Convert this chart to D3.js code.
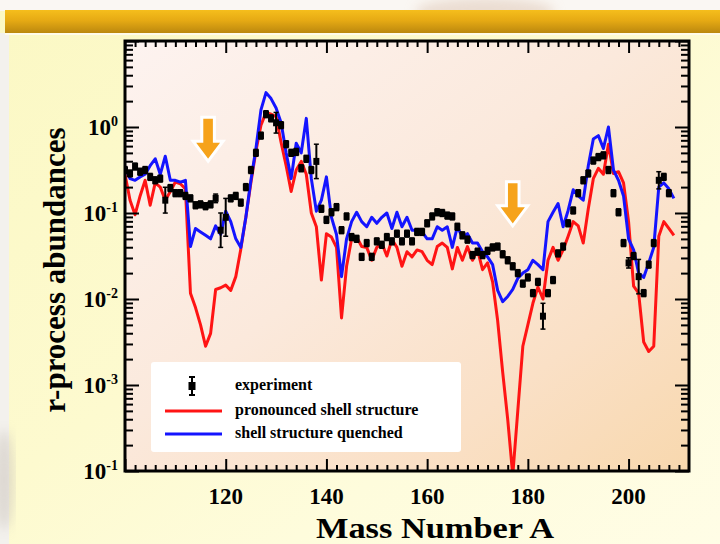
<!DOCTYPE html>
<html><head><meta charset="utf-8">
<script src="https://cdn.jsdelivr.net/npm/d3@7"></script>
<style>html,body{margin:0;padding:0;background:#fdfbd6;} svg{display:block}</style>
</head><body><svg id="c" width="720" height="544"></svg>
<script>
// ---------------- data ----------------
const massA = [100,101,102,103,104,105,106,107,108,109,110,111,112,113,114,115,116,117,118,119,
 120,121,122,123,124,125,126,127,128,129,130,131,132,133,134,135,136,137,138,139,
 140,141,142,143,144,145,146,147,148,149,150,151,152,153,154,155,156,157,158,159,
 160,161,162,163,164,165,166,167,168,169,170,171,172,173,174,175,176,177,178,179,
 180,181,182,183,184,185,186,187,188,189,190,191,192,193,194,195,196,197,198,199,
 200,201,202,203,204,205,206,207,208,209];

const quenched = [0.339,0.251,0.240,0.263,0.282,0.355,0.427,0.282,0.457,0.240,0.240,0.229,0.240,0.0407,0.0661,0.0603,0.0550,0.0501,0.0708,0.0562,
 0.105,0.0794,0.0501,0.0398,0.0891,0.240,0.562,1.58,2.51,2.14,1.66,1.12,0.501,0.251,0.646,0.501,1.26,0.251,0.105,0.141,
 0.263,0.0891,0.0562,0.0182,0.0501,0.0794,0.102,0.0794,0.0692,0.0891,0.0759,0.0891,0.100,0.0661,0.102,0.0692,0.0891,0.0631,0.0631,0.0603,
 0.0501,0.0501,0.0692,0.0631,0.0692,0.0398,0.0692,0.0525,0.0575,0.0447,0.0447,0.0355,0.0309,0.0251,0.0126,0.00933,0.0107,0.0129,0.0174,0.0200,
 0.0219,0.0282,0.0251,0.0219,0.0794,0.102,0.129,0.0692,0.107,0.186,0.158,0.141,0.355,0.724,0.794,0.562,1.0,0.316,0.240,0.158,
 0.0501,0.0372,0.0200,0.0178,0.0263,0.0398,0.200,0.224,0.191,0.148];

const pronounced = [0.282,0.141,0.0955,0.158,0.240,0.123,0.224,0.200,0.141,0.178,0.229,0.219,0.191,0.0117,0.00794,0.00501,0.00282,0.00398,0.0129,0.0135,
 0.0145,0.0126,0.0182,0.0380,0.0891,0.224,0.525,1.05,1.48,1.41,1.32,0.661,0.355,0.178,0.316,0.398,0.282,0.100,0.0692,0.0166,
 0.0575,0.0525,0.0398,0.00603,0.0240,0.0501,0.0525,0.0407,0.0398,0.0282,0.0398,0.0447,0.0316,0.0490,0.0398,0.0240,0.0355,0.0309,0.0372,0.0355,
 0.0282,0.0251,0.0407,0.0447,0.0398,0.0224,0.0398,0.0282,0.0407,0.0282,0.0372,0.0219,0.0263,0.0158,0.00562,0.00141,0.000398,0.0000891,0.000501,0.00282,
 0.00501,0.00891,0.0138,0.0100,0.0282,0.0398,0.0282,0.0372,0.0537,0.0794,0.0708,0.0447,0.112,0.251,0.331,0.282,0.631,0.288,0.302,0.224,
 0.0794,0.0141,0.0117,0.00316,0.00245,0.00282,0.0537,0.0794,0.0661,0.0550];

const expA = [100,101,102,103,104,105,106,107,108,109,110,111,112,113,114,115,116,117,118,119,
 120,121,122,123,124,125,126,127,128,129,130,131,132,133,134,135,136,137,138,139,
 140,141,142,143,144,145,146,147,148,149,150,151,152,153,154,155,156,157,158,159,
 160,161,162,163,164,165,166,167,168,169,170,171,172,173,174,175,176,177,178,179,
 180,181,182,183,184,185,186,187,188,189,190,191,192,193,194,195,196,197,198,199,
 200,201,202,203,204,205,206,207,208];
const expValue = [0.316,0.288,0.347,0.302,0.316,0.263,0.240,0.251,0.141,0.195,0.170,0.170,0.158,0.148,0.123,0.126,0.120,0.126,0.148,0.0631,
 0.0891,0.148,0.158,0.132,0.200,0.316,0.501,0.794,1.41,1.26,1.12,1.05,0.631,0.501,0.513,0.331,0.427,0.316,0.398,0.112,
 0.0832,0.102,0.117,0.0631,0.0912,0.0525,0.0501,0.0309,0.0447,0.0309,0.0468,0.0427,0.0525,0.0468,0.0575,0.0468,0.0575,0.0468,0.0603,0.0603,
 0.0759,0.0912,0.102,0.100,0.0933,0.0912,0.0692,0.0550,0.0490,0.0324,0.0355,0.0324,0.0363,0.0398,0.0407,0.0331,0.0282,0.0240,0.0200,0.0151,
 0.0178,0.0117,0.0158,0.00631,0.0117,0.0166,0.0339,0.0407,0.0759,0.107,0.170,0.240,0.288,0.407,0.447,0.468,0.316,0.170,0.102,0.0447,
 0.0263,0.0316,0.0182,0.0117,0.0251,0.0447,0.240,0.263,0.170];
// error half-width in decades
const expErr = [0.04,0.04,0.04,0.04,0.04,0.04,0.04,0.04,0.15,0.04,0.04,0.04,0.04,0.04,0.04,0.04,0.04,0.04,0.05,0.20,
 0.22,0.04,0.04,0.04,0.04,0.04,0.04,0.04,0.04,0.04,0.12,0.04,0.04,0.04,0.04,0.04,0.04,0.04,0.20,0.04,
 0.04,0.04,0.04,0.04,0.04,0.04,0.04,0.04,0.04,0.04,0.04,0.04,0.04,0.04,0.04,0.04,0.04,0.04,0.04,0.04,
 0.04,0.04,0.04,0.04,0.04,0.04,0.04,0.04,0.04,0.04,0.04,0.04,0.04,0.04,0.04,0.04,0.04,0.04,0.04,0.04,
 0.04,0.04,0.04,0.15,0.04,0.04,0.04,0.04,0.04,0.04,0.04,0.04,0.04,0.04,0.04,0.04,0.04,0.04,0.04,0.04,
 0.06,0.04,0.20,0.04,0.04,0.04,0.10,0.04,0.04];

const xDomain = [100, 212];
const yDomain = [1e-4, 10];
const xMajorTicks = [100,120,140,160,180,200];
const yMajorTicks = [1e-4,1e-3,1e-2,1e-1,1,10];
const yTickLabels = [{v:1, e:"0"},{v:1e-1, e:"-1"},{v:1e-2, e:"-2"},{v:1e-3, e:"-3"},{v:1e-4, e:"-1"}];
const xTickLabels = [120,140,160,180,200];
const legendLabels = ["experiment","pronounced shell structure","shell structure quenched"];
const arrowA = [116.5, 177.0];
const arrowTip = [0.40, 0.071];

// ---------------- drawing ----------------
const svg = d3.select("#c");
const W = 720, H = 544;
const M = {l:125, r:689, t:41, b:471};
const x = d3.scaleLinear().domain(xDomain).range([M.l, M.r]);
const y = d3.scaleLog().domain(yDomain).range([M.b, M.t]);
const serif = "'Liberation Serif','Times New Roman',serif";

const defs = svg.append("defs");
function lg(id, x1,y1,x2,y2, stops){
  const g = defs.append("linearGradient").attr("id",id)
    .attr("x1",x1).attr("y1",y1).attr("x2",x2).attr("y2",y2);
  stops.forEach(s=>g.append("stop").attr("offset",s[0]).attr("stop-color",s[1]));
}
lg("pageG",0,0,1,1,[[0,"#fbf8c4"],[0.45,"#fdfacf"],[0.7,"#fefcdc"],[1,"#fffde6"]]);
lg("barG",0,0,0,1,[[0,"#f5be1c"],[0.45,"#e6aa14"],[1,"#bb880e"]]);
lg("plotG",0,0,1,1,[[0,"#fdf3f0"],[0.45,"#fbe9dc"],[0.75,"#fae0c6"],[1,"#f8d8ae"]]);
defs.append("clipPath").attr("id","clip").append("rect")
  .attr("x",M.l).attr("y",M.t).attr("width",M.r-M.l).attr("height",M.b-M.t);
defs.append("filter").attr("id","blur").append("feGaussianBlur").attr("stdDeviation",6);

// page background
svg.append("rect").attr("width",W).attr("height",H).attr("fill","url(#pageG)");
svg.append("rect").attr("x",0).attr("y",0).attr("width",W).attr("height",11).attr("fill","#faf7f3");
svg.append("ellipse").attr("cx",485).attr("cy",12).attr("rx",70).attr("ry",14)
  .attr("fill","#dcc2b0").attr("opacity",0.5).attr("filter","url(#blur)");
svg.append("rect").attr("x",0).attr("y",33).attr("width",9).attr("height",H-33).attr("fill","#f3f1ed");
svg.append("ellipse").attr("cx",4).attr("cy",480).attr("rx",10).attr("ry",50)
  .attr("fill","#cfc8c0").attr("opacity",0.6).attr("filter","url(#blur)");
svg.append("rect").attr("x",5).attr("y",10).attr("width",W-5).attr("height",23).attr("fill","url(#barG)");
svg.append("rect").attr("x",5).attr("y",33).attr("width",W-5).attr("height",2).attr("fill","#fffbea");

// plot background
svg.append("rect").attr("x",M.l).attr("y",M.t).attr("width",M.r-M.l).attr("height",M.b-M.t)
  .attr("fill","url(#plotG)");

// arrows
const arrowShape = [[0,0],[-15,-20],[-6.3,-20],[-6.3,-44],[6.3,-44],[6.3,-20],[15,-20]];
arrowA.forEach((a,i)=>{
  const cx = x(a), cy = y(arrowTip[i]);
  svg.append("polygon")
    .attr("points", arrowShape.map(p=>[cx+p[0], cy+p[1]].join(",")).join(" "))
    .attr("fill","#f6a31b").attr("stroke","#ffffff").attr("stroke-width",3)
    .attr("stroke-linejoin","miter");
});

// legend box
const lgX = 151, lgY = 362;
svg.append("rect").attr("x",lgX).attr("y",lgY).attr("width",310).attr("height",90)
  .attr("rx",3).attr("fill","#ffffff");

// model lines
const plot = svg.append("g").attr("clip-path","url(#clip)");
const line = d3.line().x(d=>x(d[0])).y(d=>y(Math.max(d[1],5e-5)));
plot.append("path").datum(massA.map((a,i)=>[a,pronounced[i]]))
  .attr("d",line).attr("fill","none").attr("stroke","#ff1414").attr("stroke-width",3)
  .attr("stroke-linejoin","round");
plot.append("path").datum(massA.map((a,i)=>[a,quenched[i]]))
  .attr("d",line).attr("fill","none").attr("stroke","#1414ff").attr("stroke-width",3)
  .attr("stroke-linejoin","round");

// experiment points
const ex = plot.append("g").attr("fill","#000").attr("stroke","#000");
expA.forEach((a,i)=>{
  const v = expValue[i], e = expErr[i];
  const px = x(a), y0 = y(v/Math.pow(10,e)), y1 = y(v*Math.pow(10,e));
  ex.append("line").attr("x1",px).attr("x2",px).attr("y1",y0).attr("y2",y1).attr("stroke-width",2);
  ex.append("line").attr("x1",px-2.5).attr("x2",px+2.5).attr("y1",y0).attr("y2",y0).attr("stroke-width",1.5);
  ex.append("line").attr("x1",px-2.5).attr("x2",px+2.5).attr("y1",y1).attr("y2",y1).attr("stroke-width",1.5);
  ex.append("rect").attr("x",px-3).attr("y",y(v)-3.5).attr("width",6).attr("height",7).attr("stroke","none");
});

// axes ticks (inward)
const xMinor = d3.range(102, 212, 2).filter(v=>v%20!==0);
const yMinor = [];
[-4,-3,-2,-1,0].forEach(p=>{ for(let k=2;k<=9;k++) yMinor.push(k*Math.pow(10,p)); });
function styleAxis(g){ g.select(".domain").remove(); g.selectAll(".tick line").attr("stroke","#000").attr("stroke-width",2); g.selectAll("text").remove(); }
svg.append("g").attr("transform",`translate(0,${M.b})`).call(d3.axisBottom(x).tickValues(xMajorTicks).tickSize(-12)).call(styleAxis);
svg.append("g").attr("transform",`translate(0,${M.b})`).call(d3.axisBottom(x).tickValues(xMinor).tickSize(-6)).call(styleAxis);
svg.append("g").attr("transform",`translate(0,${M.t})`).call(d3.axisTop(x).tickValues(xMajorTicks).tickSize(-12)).call(styleAxis);
svg.append("g").attr("transform",`translate(0,${M.t})`).call(d3.axisTop(x).tickValues(xMinor).tickSize(-6)).call(styleAxis);
svg.append("g").attr("transform",`translate(${M.l},0)`).call(d3.axisLeft(y).tickValues(yMajorTicks).tickSize(-14)).call(styleAxis);
svg.append("g").attr("transform",`translate(${M.l},0)`).call(d3.axisLeft(y).tickValues(yMinor).tickSize(-8)).call(styleAxis);
svg.append("g").attr("transform",`translate(${M.r},0)`).call(d3.axisRight(y).tickValues(yMajorTicks).tickSize(-14)).call(styleAxis);
svg.append("g").attr("transform",`translate(${M.r},0)`).call(d3.axisRight(y).tickValues(yMinor).tickSize(-8)).call(styleAxis);

// frame
svg.append("rect").attr("x",M.l).attr("y",M.t).attr("width",M.r-M.l).attr("height",M.b-M.t)
  .attr("fill","none").attr("stroke","#000").attr("stroke-width",3);

// tick labels
yTickLabels.forEach(t=>{
  const tx = svg.append("text").attr("x",118).attr("y",y(t.v)+8).attr("text-anchor","end")
    .attr("font-family",serif).attr("font-weight","bold").attr("font-size",23).attr("fill","#000");
  tx.append("tspan").text("10");
  tx.append("tspan").attr("dy",-9).attr("font-size",14).text(t.e);
});
svg.selectAll(".xl").data(xTickLabels).enter().append("text")
  .attr("x",d=>x(d)).attr("y",504).attr("text-anchor","middle")
  .attr("font-family",serif).attr("font-weight","bold").attr("font-size",23).attr("fill","#000")
  .text(d=>d);

// axis titles
svg.append("text").attr("x",435).attr("y",538).attr("text-anchor","middle")
  .attr("font-family",serif).attr("font-weight","bold").attr("font-size",30).attr("fill","#000")
  .attr("textLength",238).attr("lengthAdjust","spacingAndGlyphs")
  .text("Mass Number A");
svg.append("text").attr("transform","translate(65,270) rotate(-90)").attr("text-anchor","middle")
  .attr("font-family",serif).attr("font-weight","bold").attr("font-size",31).attr("fill","#000")
  .text("r-process abundances");

// legend contents
const lx = 192, ly = 386;
svg.append("line").attr("x1",lx).attr("x2",lx).attr("y1",ly-9).attr("y2",ly+9).attr("stroke","#000").attr("stroke-width",2);
svg.append("line").attr("x1",lx-3).attr("x2",lx+3).attr("y1",ly-9).attr("y2",ly-9).attr("stroke","#000").attr("stroke-width",2);
svg.append("line").attr("x1",lx-3).attr("x2",lx+3).attr("y1",ly+9).attr("y2",ly+9).attr("stroke","#000").attr("stroke-width",2);
svg.append("rect").attr("x",lx-3.5).attr("y",ly-4).attr("width",7).attr("height",8).attr("fill","#000");
svg.append("line").attr("x1",165).attr("x2",222).attr("y1",411).attr("y2",411).attr("stroke","#ff1414").attr("stroke-width",3);
svg.append("line").attr("x1",165).attr("x2",222).attr("y1",434).attr("y2",434).attr("stroke","#1414ff").attr("stroke-width",3);
[390,415,438].forEach((yy,i)=>{
  svg.append("text").attr("x",235).attr("y",yy).attr("font-family",serif).attr("font-weight","bold")
    .attr("font-size",16).attr("fill","#000").text(legendLabels[i]);
});
</script></body></html>
